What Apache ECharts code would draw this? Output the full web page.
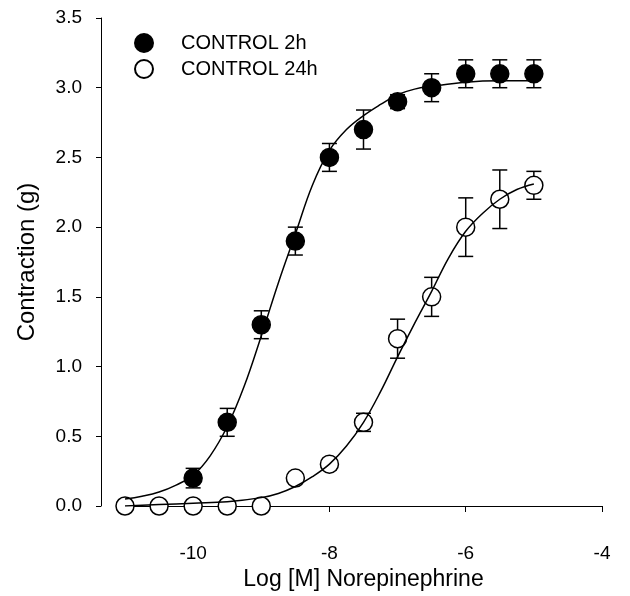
<!DOCTYPE html>
<html>
<head>
<meta charset="utf-8">
<style>
    html, body { margin: 0; padding: 0; background: #fff; }
    #chart { width: 630px; height: 596px; }
</style>
</head>
<body>
<div id="chart"></div>
<script src="https://cdn.jsdelivr.net/npm/echarts@6/dist/echarts.min.js"></script>
<script type="text/javascript">
    // dose values (log M)
    const doses2h = [-10, -9.5, -9, -8.5, -8, -7.5, -7, -6.5, -6, -5.5, -5];
    const means2h = [0.2, 0.6, 1.3, 1.9, 2.5, 2.7, 2.9, 3.0, 3.1, 3.1, 3.1];
    const sem2h = [0.07, 0.1, 0.1, 0.1, 0.1, 0.14, 0.05, 0.1, 0.1, 0.1, 0.1];

    const doses24h = [-11, -10.5, -10, -9.5, -9, -8.5, -8, -7.5, -7, -6.5, -6, -5.5, -5];
    const means24h = [0, 0, 0, 0, 0, 0.2, 0.3, 0.6, 1.2, 1.5, 2.0, 2.2, 2.3];
    const sem24h = [0.02, 0.02, 0.02, 0.02, 0.02, 0.03, 0.04, 0.065, 0.14, 0.14, 0.21, 0.21, 0.1];

    // fitted curves
    const fitX2h = [-11, -10.75, -10.5, -10.25, -10, -9.75, -9.5, -9.25, -9, -8.75, -8.5, -8.25, -8, -7.75, -7.5, -7.25, -7, -6.75, -6.5, -6, -5.5, -5];
    const fitY2h = [0.05, 0.07, 0.10, 0.15, 0.22, 0.36, 0.57, 0.86, 1.22, 1.6, 1.95, 2.3, 2.55, 2.70, 2.80, 2.88, 2.95, 2.99, 3.01, 3.04, 3.05, 3.05];
    const fitX24h = [-11, -10.5, -10, -9.5, -9, -8.75, -8.5, -8.25, -8, -7.75, -7.5, -7.25, -7, -6.75, -6.5, -6.25, -6, -5.75, -5.5, -5.25, -5];
    const fitY24h = [0.0, 0.01, 0.02, 0.03, 0.06, 0.09, 0.14, 0.21, 0.30, 0.43, 0.60, 0.82, 1.07, 1.31, 1.54, 1.78, 1.97, 2.10, 2.20, 2.27, 2.31];

    const xTicks = [-10, -8, -6, -4];
    const names = ['CONTROL 2h', 'CONTROL 24h'];

    const font = 'Liberation Sans, Arial, sans-serif';
    const chart = echarts.init(document.getElementById('chart'));

    const pairs = (xs, ys) => xs.map((x, i) => [x, ys[i]]);
    const bars = (xs, ys, es) => xs.map((x, i) => [x, ys[i] - es[i], ys[i] + es[i]]);

    function errorBar(params, api) {
        const lo = api.coord([api.value(0), api.value(1)]);
        const hi = api.coord([api.value(0), api.value(2)]);
        const w = 7.5;
        const style = { stroke: '#000', lineWidth: 1.5 };
        return {
            type: 'group',
            children: [
                { type: 'line', shape: { x1: lo[0], y1: lo[1], x2: hi[0], y2: hi[1] }, style: style },
                { type: 'line', shape: { x1: lo[0] - w, y1: lo[1], x2: lo[0] + w, y2: lo[1] }, style: style },
                { type: 'line', shape: { x1: hi[0] - w, y1: hi[1], x2: hi[0] + w, y2: hi[1] }, style: style }
            ]
        };
    }

    chart.setOption({
        animation: false,
        textStyle: { fontFamily: font, color: '#000' },
        grid: { left: 125, right: 28, top: 18, bottom: 88 },
        legend: {
            orient: 'vertical',
            left: 129,
            top: 28,
            itemWidth: 18,
            itemHeight: 18,
            itemGap: 6,
            data: names,
            textStyle: { fontFamily: font, fontSize: 20, lineHeight: 20, color: '#000', padding: [0, 0, 0, 23] }
        },
        xAxis: {
            type: 'value',
            min: -11,
            max: -4,
            offset: 25,
            name: 'Log [M] Norepinephrine',
            nameLocation: 'middle',
            nameGap: 37,
            nameTextStyle: { fontFamily: font, fontSize: 23, color: '#000' },
            axisLine: { show: true, lineStyle: { color: '#000', width: 1 } },
            axisTick: { show: true, length: 6, customValues: xTicks, lineStyle: { color: '#000' } },
            axisLabel: { customValues: xTicks, margin: 13, fontFamily: font, fontSize: 19, color: '#000' },
            splitLine: { show: false }
        },
        yAxis: {
            type: 'value',
            min: 0,
            max: 3.5,
            interval: 0.5,
            offset: 24,
            name: 'Contraction (g)',
            nameLocation: 'middle',
            nameGap: 62,
            nameTextStyle: { fontFamily: font, fontSize: 24, color: '#000' },
            axisLine: { show: true, lineStyle: { color: '#000', width: 1 } },
            axisTick: { show: true, length: 5, lineStyle: { color: '#000' } },
            axisLabel: { margin: 19, fontFamily: font, fontSize: 19, color: '#000', formatter: v => v.toFixed(1) },
            splitLine: { show: false }
        },
        series: [
            {
                type: 'custom',
                renderItem: errorBar,
                data: bars(doses2h, means2h, sem2h),
                z: 1,
                silent: true
            },
            {
                type: 'custom',
                renderItem: errorBar,
                data: bars(doses24h, means24h, sem24h),
                z: 1,
                silent: true
            },
            {
                name: names[0],
                type: 'scatter',
                symbol: 'circle',
                symbolSize: 18,
                itemStyle: { color: '#000', borderColor: '#000', borderWidth: 1.5, opacity: 1 },
                data: pairs(doses2h, means2h),
                z: 3
            },
            {
                name: names[1],
                type: 'scatter',
                symbol: 'circle',
                symbolSize: 18,
                itemStyle: { color: '#fff', borderColor: '#000', borderWidth: 1.5, opacity: 1 },
                data: pairs(doses24h, means24h),
                z: 3
            },
            {
                type: 'line',
                smooth: 0.4,
                showSymbol: false,
                lineStyle: { color: '#000', width: 1.5 },
                data: pairs(fitX2h, fitY2h),
                z: 4,
                silent: true
            },
            {
                type: 'line',
                smooth: 0.4,
                showSymbol: false,
                lineStyle: { color: '#000', width: 1.5 },
                data: pairs(fitX24h, fitY24h),
                z: 4,
                silent: true
            }
        ]
    });
</script>
</body>
</html>
